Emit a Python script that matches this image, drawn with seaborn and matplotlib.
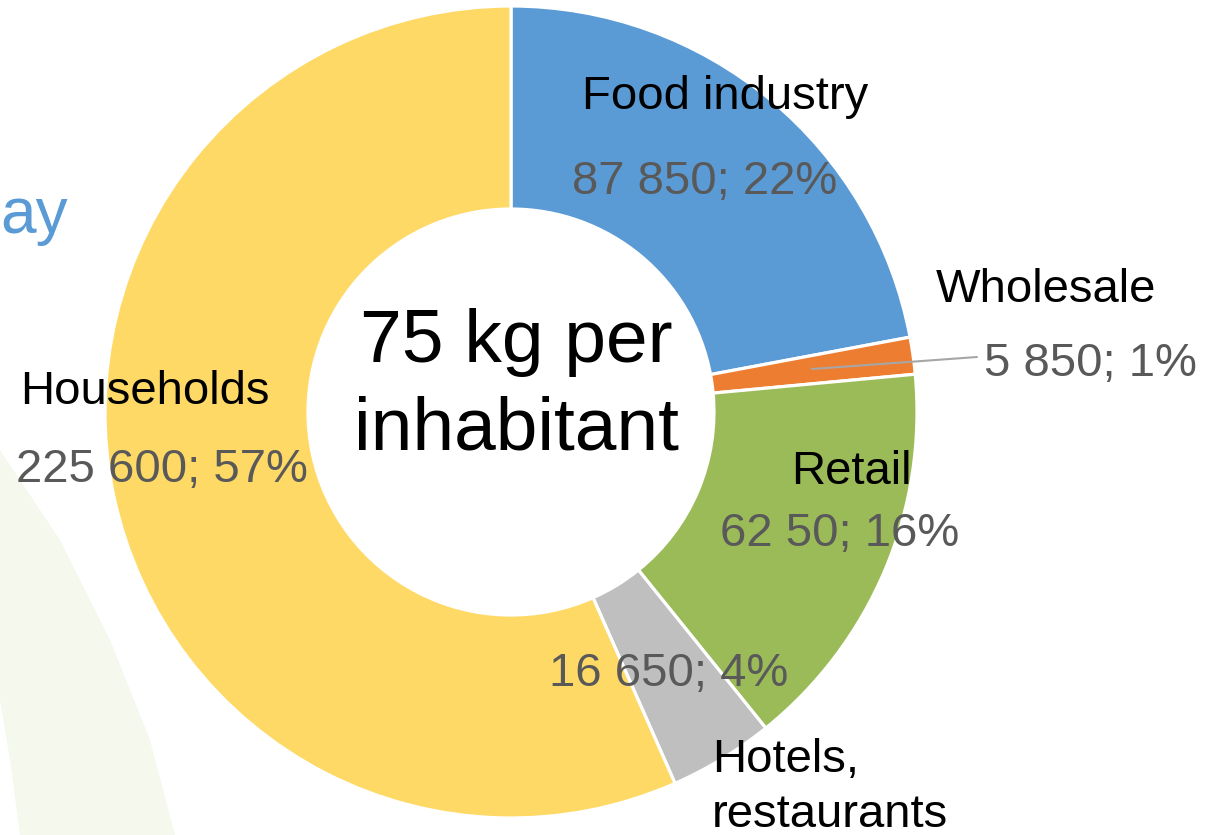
import matplotlib
matplotlib.use("Agg")
import matplotlib.pyplot as plt
import seaborn as sns
from matplotlib.patches import Polygon

sns.set_theme(style="white")
plt.rcParams['font.family'] = ['Liberation Sans', 'DejaVu Sans']

# ---- data ----
categories = ["Food industry", "Wholesale", "Retail", "Hotels,\nrestaurants", "Households"]
values = [87850, 5850, 62500, 16650, 225600]
value_labels = ["87 850; 22%", "5 850; 1%", "62 50; 16%", "16 650; 4%", "225 600; 57%"]
colors = ["#5B9BD5", "#ED7D31", "#9BBB59", "#BFBFBF", "#FED966"]
center_lines = ["75 kg per", "inhabitant"]
title_text = "ay"

W, H = 1207, 835
fig = plt.figure(figsize=(W / 100, H / 100), dpi=100)
ax = fig.add_axes([0, 0, 1, 1])

def Y(ypix):
    return H - ypix

# faint background band
band = Polygon([(0, Y(450)), (60, Y(540)), (110, Y(640)), (150, Y(740)), (175, Y(835)),
                (20, Y(835)), (10, Y(760)), (0, Y(700))],
               closed=True, facecolor="#F5F8EC", edgecolor="none", zorder=0)
ax.add_patch(band)

palette = sns.color_palette(colors)
R = 406
cx, cy = 511, Y(412)
wedges, _ = ax.pie(values, colors=palette, startangle=90, counterclock=False,
                   radius=R, center=(cx, cy),
                   wedgeprops=dict(width=R * 0.5, edgecolor="white", linewidth=2.3),
                   frame=False)
for w in wedges:
    w.set_zorder(2)

ax.set_xlim(0, W)
ax.set_ylim(0, H)
ax.set_aspect('equal')
ax.axis('off')

black = "#000000"
grey = "#595959"
fs = 34
line_gap = 55

# category labels (x, baseline of first line)
cat_pos = [(725, 109, 'center'), (1046, 302, 'center'), (851, 484, 'center'),
           (712, 772, 'left'), (145, 404, 'center')]
val_pos = [(705, 194), (1090, 376), (840, 546), (669, 686), (162, 482)]

for i, cat in enumerate(categories):
    x, yb, ha = cat_pos[i]
    for j, line in enumerate(cat.split("\n")):
        ax.text(x, Y(yb + j * line_gap), line, ha=ha, va='baseline', fontsize=fs,
                color=black, zorder=5)
    vx, vy = val_pos[i]
    ax.text(vx, Y(vy), value_labels[i], ha='center', va='baseline', fontsize=fs,
            color=grey, zorder=5)

# leader line for Wholesale
ax.plot([812, 977], [Y(369), Y(357)], color="#A6A6A6", lw=1.5, zorder=4)

# center text
for j, line in enumerate(center_lines):
    ax.text(516, Y(362 + j * 88), line, ha='center', va='baseline', fontsize=54,
            color=black, zorder=5)

# title fragment
ax.text(68, Y(233), title_text, ha='right', va='baseline', fontsize=46,
        color="#5B9BD5", zorder=5)

fig.savefig("out.png", dpi=100)
